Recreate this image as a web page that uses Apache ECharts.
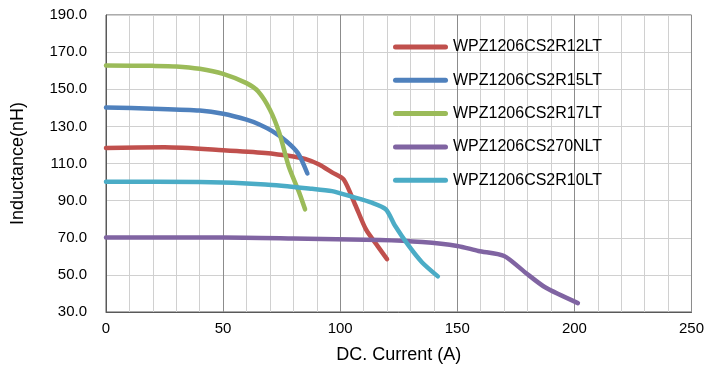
<!DOCTYPE html>
<html>
<head>
<meta charset="utf-8">
<script src="https://cdn.jsdelivr.net/npm/echarts@6/dist/echarts.min.js"></script>
<style>
html,body{margin:0;padding:0;background:#fff;}
#c{width:707px;height:369px;}
</style>
</head>
<body>
<div id="c"></div>
<script>
const seriesNames = ['WPZ1206CS2R12LT','WPZ1206CS2R15LT','WPZ1206CS2R17LT','WPZ1206CS270NLT','WPZ1206CS2R10LT'];
const seriesColors = ['#C0504D','#4F81BD','#9BBB59','#8064A2','#4BACC6'];

const r12 = [[0,118.4],[25,118.7],[50,117.2],[68,115.7],[80,113.8],[85,112.5],[91,109.5],[96.5,105.2],[101.5,101.4],[106.5,87.5],[111,74.5],[116,65.5],[120,58.5]];
const r15 = [[0,140.2],[20,139.5],[40,138.5],[50,136.8],[60,133.6],[65.5,131],[71,127.4],[77,122],[82,115.5],[86,104.6]];
const r17 = [[0,162.8],[20,162.6],[30,162.3],[40,161.0],[50,158.3],[60,153.3],[65,148.8],[70,139],[74,126.5],[78,108.5],[82.5,94.3],[85,85.3]];
const r270 = [[0,70.1],[50,70.1],[80,69.6],[117,68.8],[135,67.7],[150,65.6],[159,62.9],[170,60.2],[179,51.3],[187.5,43.3],[201.5,34.8]];
const r10 = [[0,100.2],[40,100],[68,98.7],[88,96.4],[96.5,95.1],[105,92.1],[113.5,88.9],[119.5,85.3],[123.5,76.3],[129.3,65.6],[135,56.7],[141.7,49.2]];
const allData = [r12, r15, r17, r270, r10];

const xTicks = {min:0, max:250, interval:50};
const yTicks = {min:30, max:190, interval:20};

const chart = echarts.init(document.getElementById('c'), null, {renderer:'canvas'});
const font = 'Liberation Sans, Arial, sans-serif';
chart.setOption({
  animation:false,
  textStyle:{fontFamily:font},
  grid:{left:106, right:13, top:15, bottom:56, show:true, borderColor:'#595959', borderWidth:1, backgroundColor:'transparent'},
  legend:{
    orient:'vertical', left:393, top:38, padding:0, itemWidth:55, itemHeight:5, itemGap:15.3,
    icon:'path://M2.5,0 L52.5,0 A2.5,2.5 0 0 1 52.5,5 L2.5,5 A2.5,2.5 0 0 1 2.5,0 Z',
    textStyle:{fontFamily:font, fontSize:16, color:'#000', lineHeight:18},
    data: seriesNames.map((n,i)=>({name:n, itemStyle:{color:seriesColors[i]}}))
  },
  xAxis:{
    type:'value', min:xTicks.min, max:xTicks.max, interval:xTicks.interval,
    name:'DC. Current (A)', nameLocation:'middle', nameGap:34,
    nameTextStyle:{fontFamily:font, fontSize:18, color:'#000'},
    axisLine:{show:true, lineStyle:{color:'#595959', width:1}},
    axisTick:{show:false},
    axisLabel:{fontFamily:font, fontSize:15, color:'#000', margin:9},
    splitLine:{show:true, lineStyle:{color:'#8c8c8c', width:1}},
    minorTick:{show:false, splitNumber:5},
    minorSplitLine:{show:true, lineStyle:{color:'#d0d0d0', width:1}}
  },
  yAxis:{
    type:'value', min:yTicks.min, max:yTicks.max, interval:yTicks.interval,
    name:'Inductance(nH)', nameLocation:'middle', nameGap:79,
    nameTextStyle:{fontFamily:font, fontSize:18, color:'#000'},
    axisLine:{show:true, lineStyle:{color:'#595959', width:1}},
    axisTick:{show:false},
    axisLabel:{fontFamily:font, fontSize:15, color:'#000', margin:19, formatter:v=>v.toFixed(1)},
    splitLine:{show:true, lineStyle:{color:'#d0d0d0', width:1}}
  },
  series: allData.map((d,i)=>({
    name:seriesNames[i], type:'line', data:d, showSymbol:false, symbol:'none',
    smooth:0.25,
    lineStyle:{color:seriesColors[i], width:4.5, cap:'round', join:'round'},
    itemStyle:{color:seriesColors[i]}
  }))
});
</script>
</body>
</html>
